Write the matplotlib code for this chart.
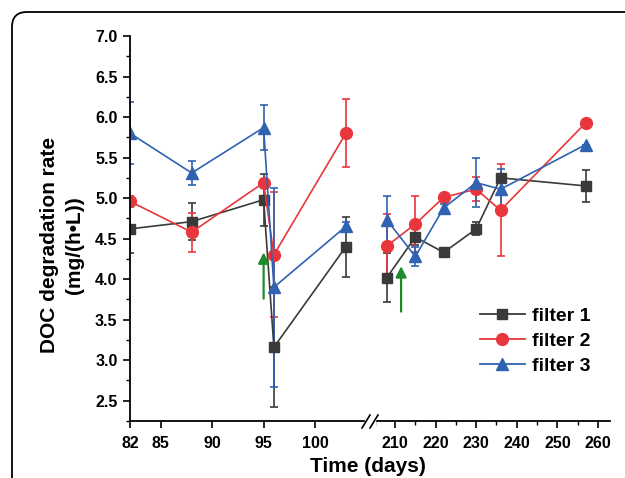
import numpy as np
import matplotlib
matplotlib.use("Agg")
import matplotlib.pyplot as plt
from matplotlib.patches import FancyBboxPatch, Rectangle
from matplotlib.lines import Line2D
from matplotlib.ticker import MultipleLocator, FormatStrFormatter

plt.rcParams['font.family'] = ['Liberation Sans', 'DejaVu Sans']
plt.rcParams['font.weight'] = 'bold'

# sampling days (first 5 before the axis break, the rest after it)
days = [82, 88, 95, 96, 103, 208, 215, 222, 230, 236, 257]
n_early = 5

filter1 = [4.62, 4.71, 4.98, 3.16, 4.40, 4.02, 4.52, 4.33, 4.62, 5.25, 5.15]
filter1_err = [0.30, 0.23, 0.32, 0.74, 0.37, 0.30, 0.10, 0.04, 0.08, 0.05, 0.20]
filter2 = [4.96, 4.58, 5.19, 4.30, 5.80, 4.41, 4.68, 5.01, 5.11, 4.85, 5.93]
filter2_err = [0.07, 0.24, 0.05, 0.77, 0.42, 0.40, 0.35, 0.04, 0.15, 0.57, 0.0]
filter3 = [5.80, 5.31, 5.87, 3.90, 4.65, 4.73, 4.28, 4.88, 5.19, 5.11, 5.66]
filter3_err = [0.38, 0.15, 0.28, 1.23, 0.05, 0.30, 0.12, 0.05, 0.30, 0.25, 0.0]

labels = ["filter 1", "filter 2", "filter 3"]
colors = ["#3a3a3a", "#e8363c", "#2f62b0"]
markers = ["s", "o", "^"]
sizes = [7.5, 8.5, 9]

# green arrows (x, tail y, head y) for each axis part
arrow_early = (95, 3.76, 4.33)
arrow_late = (211.5, 3.60, 4.16)

W, H = 625, 478
fig = plt.figure(figsize=(W / 100, H / 100), dpi=100)
axL = fig.add_axes([130 / W, 57 / H, 240 / W, 385 / H])
axR = fig.add_axes([370 / W, 57 / H, 240 / W, 385 / H])

series = [(filter1, filter1_err), (filter2, filter2_err), (filter3, filter3_err)]
for ax, sl in ((axL, slice(0, n_early)), (axR, slice(n_early, None))):
    for (vals, errs), c, m, ms in zip(series, colors, markers, sizes):
        ax.errorbar(days[sl], vals[sl], yerr=errs[sl], color=c, marker=m, ms=ms,
                    mec=c, lw=1.2, elinewidth=1.2, capsize=3.2, capthick=1.2)
    ax.set_ylim(2.25, 7.0)
    for s in ("top", "right"):
        ax.spines[s].set_visible(False)
    ax.spines["bottom"].set_linewidth(1.3)
    ax.tick_params(axis="both", which="major", direction="out", length=5, width=1.2,
                   labelsize=11.5, pad=6)
    ax.tick_params(axis="both", which="minor", direction="out", length=3, width=1.0)

axL.set_xlim(82, 105.35)
axL.set_xticks([82, 85, 90, 95, 100])
axL.spines["left"].set_linewidth(1.3)
axL.yaxis.set_major_locator(MultipleLocator(0.5))
axL.yaxis.set_minor_locator(MultipleLocator(0.25))
axL.yaxis.set_major_formatter(FormatStrFormatter("%.1f"))
axL.set_yticks(np.arange(2.5, 7.01, 0.5))
axL.tick_params(axis="y", pad=4)

axR.set_xlim(203.84, 262.96)
axR.set_xticks(np.arange(210, 261, 10))
axR.xaxis.set_minor_locator(MultipleLocator(5))
axR.spines["left"].set_visible(False)
axR.set_yticks([])
axR.tick_params(axis="y", which="both", left=False)
axR.patch.set_alpha(0)

for ax, (x, y0, y1) in ((axL, arrow_early), (axR, arrow_late)):
    ax.annotate("", xy=(x, y1), xytext=(x, y0),
                arrowprops=dict(arrowstyle="-|>", color="#1d8a2e", lw=1.6,
                                mutation_scale=16, shrinkA=0, shrinkB=0))

handles = [Line2D([], [], color=c, marker=m, ms=ms, lw=1.3) for c, m, ms in zip(colors, markers, sizes)]
fig.legend(handles, labels, loc="center left", bbox_to_anchor=(480 / W, 1 - 341 / H),
           frameon=False, borderpad=0, borderaxespad=0, handlelength=2.3,
           handletextpad=0.35, labelspacing=0.38, prop=dict(size=14, weight="bold"))

# axis break marks
fig.add_artist(Rectangle((365 / W, 1 - 425 / H), 10 / W, 8 / H, transform=fig.transFigure,
                         color="white", zorder=5))
for x0 in (362, 370):
    fig.add_artist(Line2D([x0 / W, (x0 + 8) / W], [1 - 428 / H, 1 - 415 / H],
                          transform=fig.transFigure, color="black", lw=1.2, zorder=6))

fig.text(62 / W, 1 - 245 / H, "DOC degradation rate\n(mg/(h\u2022L))", rotation=90,
         ha="center", va="center", fontsize=15, fontweight="bold", linespacing=1.35)
fig.text(368 / W, 1 - 467 / H, "Time (days)", ha="center", va="center",
         fontsize=15, fontweight="bold")

# rounded frame of the figure panel
fig.add_artist(FancyBboxPatch((0.12, -1), 7, 4.66 + 1, boxstyle="round,pad=0,rounding_size=0.15",
                              transform=fig.dpi_scale_trans, fill=False, ec="black", lw=1.3))

fig.savefig("out.png", dpi=100)
